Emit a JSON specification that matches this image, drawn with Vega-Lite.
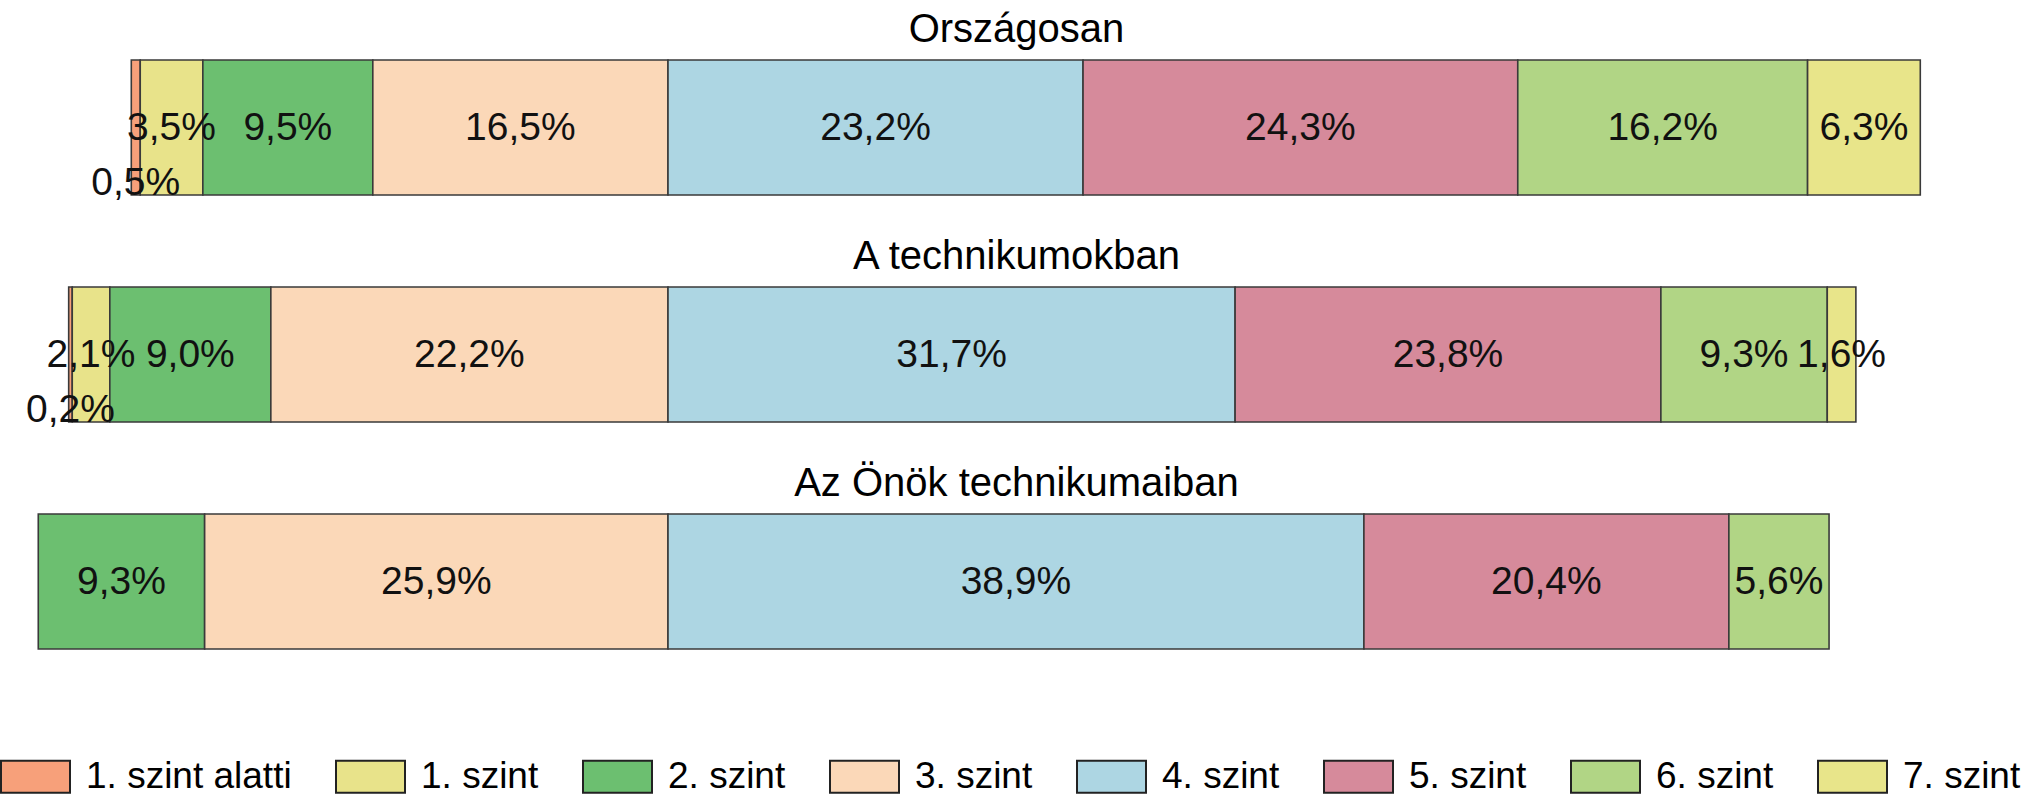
{
  "$schema": "https://vega.github.io/schema/vega-lite/v6.json",
  "padding": {"top": 10, "left": 0, "right": 0, "bottom": 0},
  "config": {
    "view": {"stroke": null},
    "font": "Liberation Sans",
    "locale": {"number": {"decimal": ",", "thousands": " ", "grouping": [3], "currency": ["", " Ft"]}}
  },
  "data": {
    "values": [
      {"group": "Országosan", "level": "1. szint alatti", "lvl": 0, "pct": 0.005},
      {"group": "Országosan", "level": "1. szint", "lvl": 1, "pct": 0.035},
      {"group": "Országosan", "level": "2. szint", "lvl": 2, "pct": 0.095},
      {"group": "Országosan", "level": "3. szint", "lvl": 3, "pct": 0.165},
      {"group": "Országosan", "level": "4. szint", "lvl": 4, "pct": 0.232},
      {"group": "Országosan", "level": "5. szint", "lvl": 5, "pct": 0.243},
      {"group": "Országosan", "level": "6. szint", "lvl": 6, "pct": 0.162},
      {"group": "Országosan", "level": "7. szint", "lvl": 7, "pct": 0.063},
      {"group": "A technikumokban", "level": "1. szint alatti", "lvl": 0, "pct": 0.002},
      {"group": "A technikumokban", "level": "1. szint", "lvl": 1, "pct": 0.021},
      {"group": "A technikumokban", "level": "2. szint", "lvl": 2, "pct": 0.090},
      {"group": "A technikumokban", "level": "3. szint", "lvl": 3, "pct": 0.222},
      {"group": "A technikumokban", "level": "4. szint", "lvl": 4, "pct": 0.317},
      {"group": "A technikumokban", "level": "5. szint", "lvl": 5, "pct": 0.238},
      {"group": "A technikumokban", "level": "6. szint", "lvl": 6, "pct": 0.093},
      {"group": "A technikumokban", "level": "7. szint", "lvl": 7, "pct": 0.016},
      {"group": "Az Önök technikumaiban", "level": "2. szint", "lvl": 2, "pct": 0.093},
      {"group": "Az Önök technikumaiban", "level": "3. szint", "lvl": 3, "pct": 0.259},
      {"group": "Az Önök technikumaiban", "level": "4. szint", "lvl": 4, "pct": 0.389},
      {"group": "Az Önök technikumaiban", "level": "5. szint", "lvl": 5, "pct": 0.204},
      {"group": "Az Önök technikumaiban", "level": "6. szint", "lvl": 6, "pct": 0.056}
    ]
  },
  "transform": [
    {"calculate": "datum.lvl < 4 ? -datum.pct : datum.pct", "as": "signed"},
    {"calculate": "abs(datum.lvl - 3.5)", "as": "rank"},
    {"stack": "signed", "groupby": ["group"], "sort": [{"field": "rank", "order": "ascending"}], "offset": "zero", "as": ["x0", "x1"]},
    {"calculate": "(datum.x0 + datum.x1) / 2", "as": "mid"}
  ],
  "facet": {
    "field": "group",
    "type": "nominal",
    "sort": ["Országosan", "A technikumokban", "Az Önök technikumaiban"],
    "header": {"title": null, "labelFontSize": 40, "labelFont": "Liberation Sans", "labelColor": "#000000", "labelPadding": 9, "labelAnchor": "middle"}
  },
  "columns": 1,
  "spacing": 34,
  "resolve": {"scale": {"y": "independent"}},
  "spec": {
    "width": 2033,
    "height": 135,
    "encoding": {
      "y": {"field": "group", "type": "nominal", "axis": null, "scale": {"paddingInner": 0, "paddingOuter": 0}}
    },
    "layer": [
      {
        "mark": {"type": "bar", "stroke": "#3a3a3a", "strokeWidth": 1.6},
        "encoding": {
          "x": {"field": "x0", "type": "quantitative", "axis": null, "scale": {"domain": [-0.37339, 0.763], "nice": false, "zero": false}},
          "x2": {"field": "x1"},
          "color": {
            "field": "level", "type": "nominal",
            "scale": {
              "domain": ["1. szint alatti", "1. szint", "2. szint", "3. szint", "4. szint", "5. szint", "6. szint", "7. szint"],
              "range": ["#F7A07A", "#E8E38A", "#6CBF70", "#FBD8B8", "#ADD6E3", "#D68A9B", "#B1D585", "#E8E58A"]
            },
            "legend": {
              "title": null, "orient": "none", "direction": "horizontal", "legendX": 0, "legendY": 681,
              "symbolType": "M-1,-0.464H1V0.464H-1Z", "symbolSize": 4761,
              "symbolStrokeColor": "#222222", "symbolStrokeWidth": 2, "symbolOpacity": 1,
              "labelFont": "Liberation Sans", "labelFontSize": 37, "labelColor": "#000000",
              "labelOffset": 15, "columnPadding": 40, "labelLimit": 400, "padding": 0
            }
          }
        }
      },
      {
        "transform": [{"filter": "datum.lvl > 0"}],
        "mark": {"type": "text", "fontSize": 39, "font": "Liberation Sans", "color": "#111111"},
        "encoding": {
          "x": {"field": "mid", "type": "quantitative"},
          "text": {"field": "pct", "type": "quantitative", "format": ".1%"}
        }
      },
      {
        "transform": [{"filter": "datum.lvl == 0"}],
        "mark": {"type": "text", "fontSize": 39, "font": "Liberation Sans", "color": "#111111", "dy": 55},
        "encoding": {
          "x": {"field": "mid", "type": "quantitative"},
          "text": {"field": "pct", "type": "quantitative", "format": ".1%"}
        }
      }
    ]
  }
}
